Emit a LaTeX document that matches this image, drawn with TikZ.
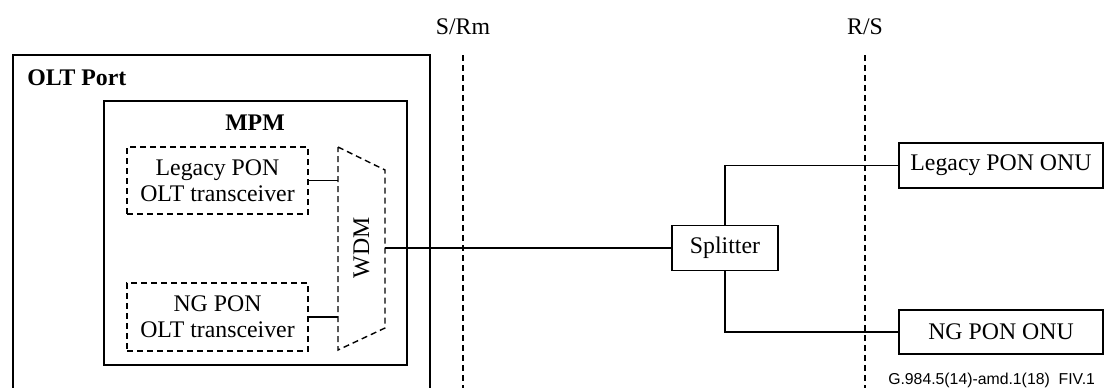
\documentclass[tikz,border=0pt]{standalone}
\usepackage{fontspec}
\setmainfont{Liberation Serif}
\newfontfamily\capfont{Liberation Sans}
\usetikzlibrary{positioning}

\tikzset{
  box/.style={draw, line width=0.7pt, inner sep=0pt, align=center},
  dbox/.style={box, dash pattern=on 3pt off 2pt},
  refline/.style={line width=0.7pt, dash pattern=on 3pt off 2pt},
  link/.style={line width=0.7pt}
}

\begin{document}
\begin{tikzpicture}[x=0.5pt, y=-0.5pt, font=\fontsize{11.9}{13}\selectfont]
\useasboundingbox (0,0) rectangle (1104,387);
\clip (0,0) rectangle (1104,387);
% OLT side
\draw[link] (13,420) -- (13,55) -- (430,55) -- (430,420);
\node[anchor=west, inner sep=0pt, font=\fontsize{11.9}{13}\selectfont\bfseries] (oltlbl) at (27,78) {OLT Port};
\node[box, minimum width=151.5pt, minimum height=132pt] (mpm) at (255.5,233) {};
\node[font=\fontsize{11.9}{13}\selectfont\bfseries] (mpmlbl) at (255,123) {MPM};
\node[dbox, minimum width=90.5pt, minimum height=33.5pt] (legacy) at (217.5,180.5) {Legacy PON\\OLT transceiver};
\node[dbox, minimum width=90.5pt, minimum height=34pt] (ngolt) at (217.5,317) {NG PON\\OLT transceiver};
% WDM
\coordinate (wdmtl) at (338,147);
\coordinate (wdmbl) at (338,350);
\coordinate (wdmtr) at (385,170);
\coordinate (wdmbr) at (385,328);
\draw[refline] (wdmtl) -- (wdmtr) -- (wdmbr) -- (wdmbl) -- cycle;
\node[rotate=90] (wdm) at (361.5,248) {WDM};
\coordinate (wdmin1) at (338,180.5);
\coordinate (wdmin2) at (338,317);
\coordinate (wdmout) at (385,248);
% reference points
\node (srm) at (463,27) {S/Rm};
\node (rs) at (865,27) {R/S};
\coordinate (srmtop) at (463,55);
\coordinate (srmbot) at (463,400);
\coordinate (rstop) at (865,55);
\coordinate (rsbot) at (865,400);
\draw[refline] (srmtop) -- (srmbot);
\draw[refline] (rstop) -- (rsbot);
% ODN and ONUs
\node[box, minimum width=53pt, minimum height=22.5pt] (splitter) at (725,248) {Splitter};
\node[box, minimum width=102pt, minimum height=22.5pt] (legonu) at (1001,165.5) {Legacy PON ONU};
\node[box, minimum width=102pt, minimum height=22pt] (ngonu) at (1001,332) {NG PON ONU};
% connections
\draw[link] (legacy.east) -- (wdmin1);
\draw[link] (ngolt.east) -- (wdmin2);
\draw[link] (wdmout) -- (splitter.west);
\draw[link] (splitter.north) |- (legonu.west);
\draw[link] (splitter.south) |- (ngonu.west);
\node[anchor=east, font=\capfont\fontsize{7.9}{9}\selectfont] (figid) at (1102,380) {G.984.5(14)-amd.1(18)\ \ FIV.1};
\end{tikzpicture}
\end{document}
